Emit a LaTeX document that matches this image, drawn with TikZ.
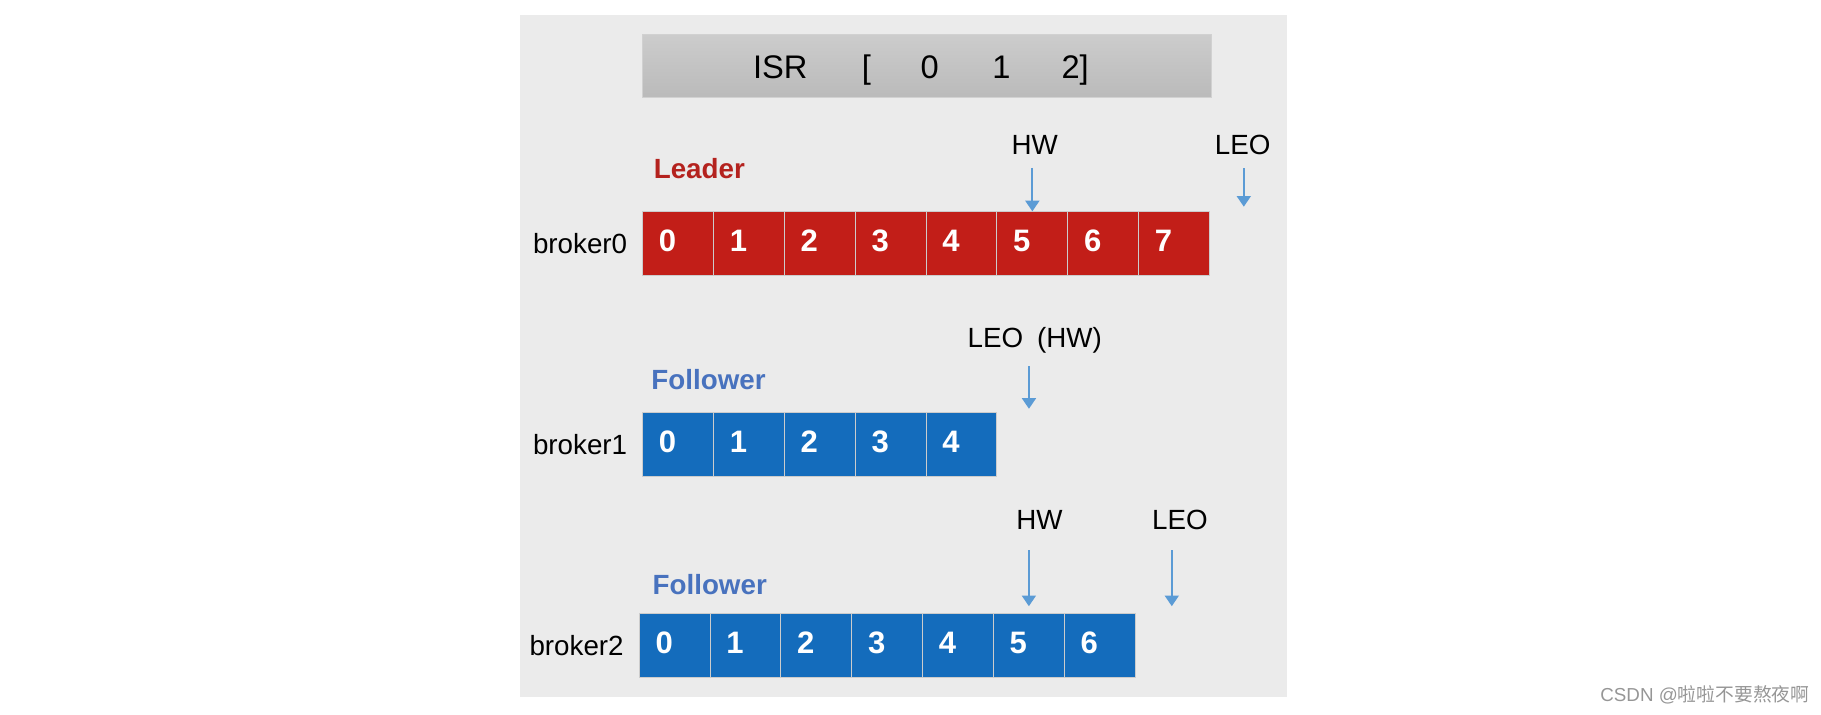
\documentclass[tikz,border=0pt]{standalone}
\usepackage{fontspec}
\setmainfont{Liberation Sans}
\newfontfamily\cjk{Noto Sans CJK SC}
\usetikzlibrary{positioning,arrows.meta}

\definecolor{panelgray}{RGB}{235,235,235}
\definecolor{leadred}{RGB}{194,30,24}
\definecolor{leadtxt}{RGB}{180,34,30}
\definecolor{followblue}{RGB}{20,108,188}
\definecolor{followtxt}{RGB}{72,114,190}
\definecolor{ptrblue}{RGB}{91,155,213}
\definecolor{markgray}{RGB}{150,150,150}

\tikzset{
  cell/.style = { draw = white!80!black, line width = .6pt, anchor = north west,
                  minimum height = 1.375cm, text width = .825cm, inner xsep = .35cm,
                  text height = 13.5pt, text depth = 3.5pt,
                  align = left, text = white, font = \fontsize{19}{20}\selectfont\bfseries },
  redcell/.style = { cell, fill = leadred },
  bluecell/.style = { cell, fill = followblue },
  lbl/.style = { font = \fontsize{17}{20}\selectfont },
  role/.style = { anchor = west, font = \fontsize{17}{20}\selectfont\bfseries },
  ptr/.style = { draw = ptrblue, line width = 1.2pt, -{Triangle[length=6.5pt,width=8.5pt]} }
}

\begin{document}
\begin{tikzpicture}[x = .025cm, y = -.025cm]
  \useasboundingbox (0,0) rectangle (1568,615);
  \fill[panelgray] (448,13) rectangle (1108,600);

  % ISR list
  \node[draw = black!18, top color = black!20, bottom color = black!27,
        minimum width = 12.25cm, minimum height = 1.35cm] (isr) at (798,57) {};
  \node[font = \fontsize{20}{24}\selectfont] (isrtxt) at (793,60)
    {ISR\hspace{1.17cm}[\hspace{1.07cm}0\hspace{1.15cm}1\hspace{1.1cm}2]};

  % broker0 (leader)
  \foreach \i in {0,...,7}
    \node[redcell] (b0c\i) at ({553+61*\i},182) {\i};
  \node[lbl, left = 2mm of b0c0] (b0) {broker0};
  \node[role, text = leadtxt] (lead) at (558,145) {Leader};
  \node[lbl] (hw0) at (891,125) {HW};
  \node[lbl] (leo0) at (1070,125) {LEO};
  \coordinate (leo0tip) at (1071,178);
  \draw[ptr, shorten <= .16cm] (b0c5.north |- hw0.south) -- (b0c5.north);
  \draw[ptr, shorten <= .16cm] (leo0tip |- leo0.south) -- (leo0tip);

  % broker1 (follower)
  \foreach \i in {0,...,4}
    \node[bluecell] (b1c\i) at ({553+61*\i},355) {\i};
  \node[lbl, left = 2mm of b1c0] (b1) {broker1};
  \node[role, text = followtxt] (fol1) at (556,327) {Follower};
  \node[lbl] (leo1) at (891,293) {LEO\hspace{.5em}(HW)};
  \coordinate (leo1tip) at (886,352);
  \draw[ptr, shorten <= .16cm] (leo1tip |- leo1.south) -- (leo1tip);

  % broker2 (follower)
  \foreach \i in {0,...,6}
    \node[bluecell] (b2c\i) at ({550+61*\i},528) {\i};
  \node[lbl, left = 2mm of b2c0] (b2) {broker2};
  \node[role, text = followtxt] (fol2) at (557,503) {Follower};
  \node[lbl] (hw2) at (895,448) {HW};
  \node[lbl] (leo2) at (1016,448) {LEO};
  \coordinate (leo2tip) at (1009,522);
  \draw[ptr, shorten <= .31cm, shorten >= .15cm] (b2c5.north |- hw2.south) -- (b2c5.north);
  \draw[ptr, shorten <= .31cm] (leo2tip |- leo2.south) -- (leo2tip);

  \node[text = markgray, font = \fontsize{11.5}{14}\selectfont] (mark) at (1468,598)
    {CSDN @{\cjk 啦啦不要熬夜啊}};
\end{tikzpicture}
\end{document}
